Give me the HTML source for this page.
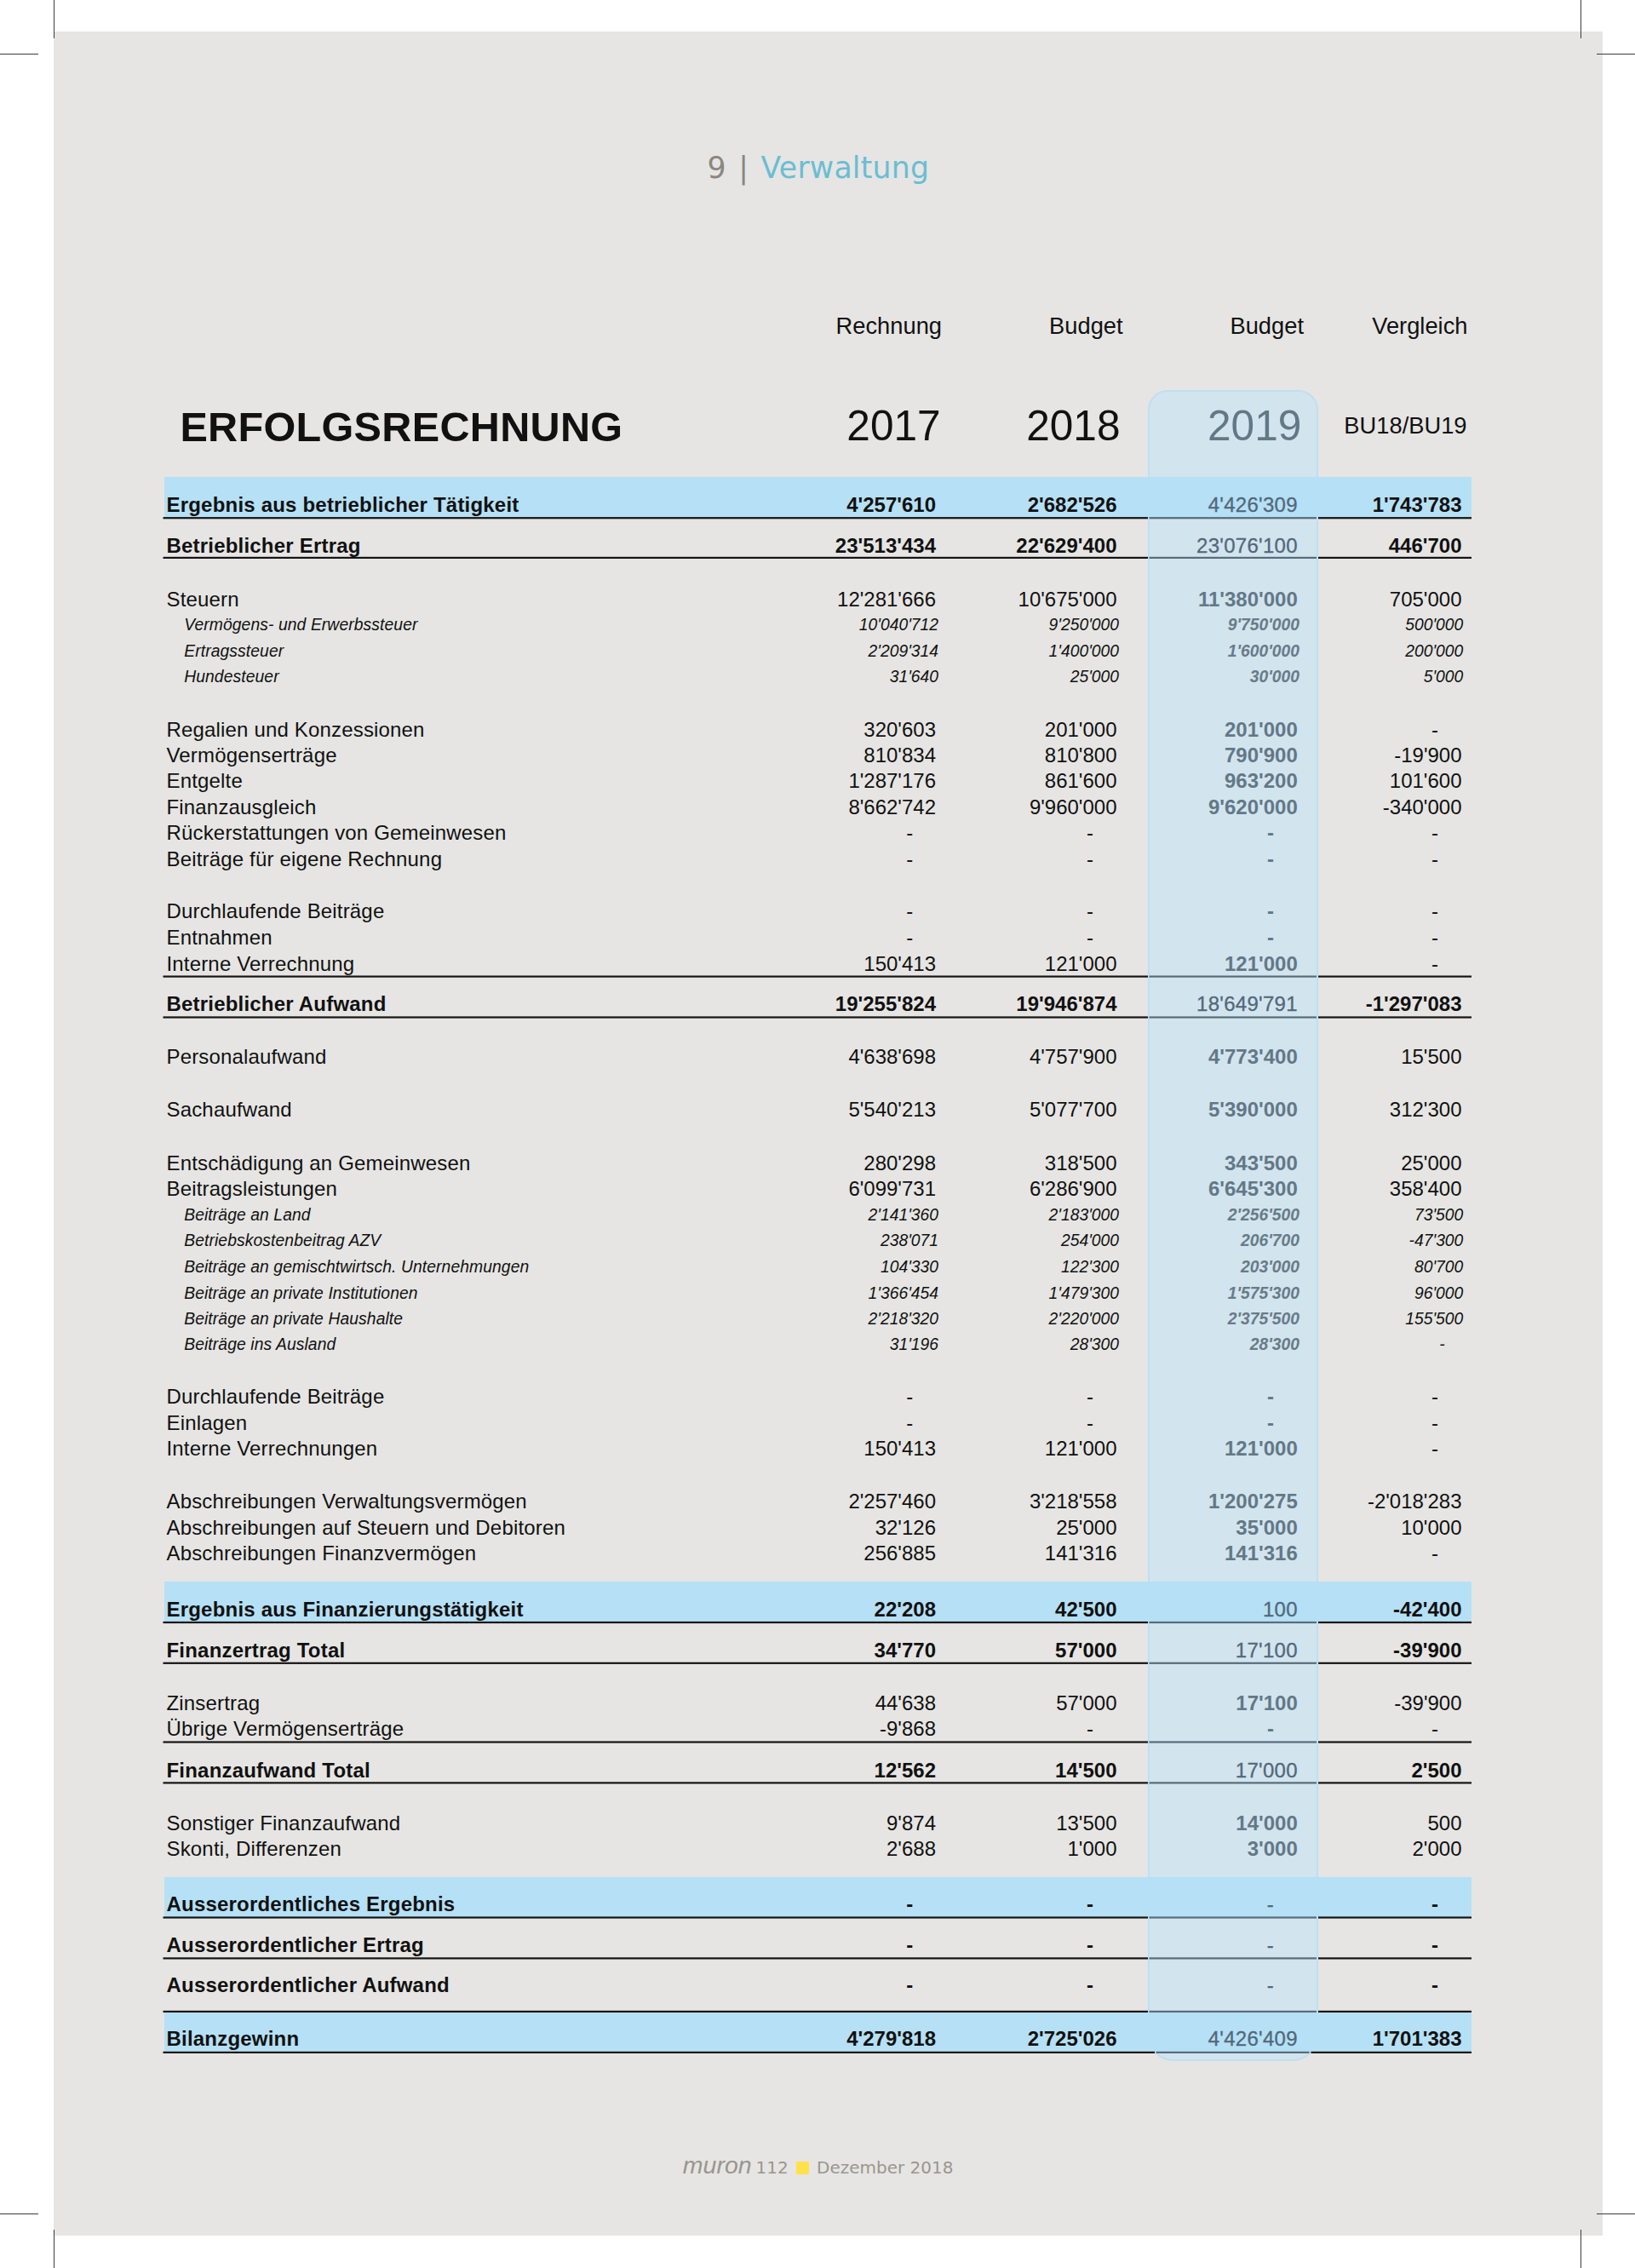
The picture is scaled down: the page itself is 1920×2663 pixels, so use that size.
<!DOCTYPE html>
<html lang="de"><head><meta charset="utf-8"><title>Erfolgsrechnung</title>
<style>
html,body{margin:0;padding:0;background:#fff;}
body{width:1920px;height:2663px;position:relative;overflow:hidden;font-family:"Liberation Sans",Arial,Helvetica,sans-serif;color:#111;}
.pg{position:absolute;left:63px;top:37px;width:1819px;height:2588px;background:#e6e5e3;}
.cm{position:absolute;background:#3c3c3c;}
.t{position:absolute;white-space:nowrap;line-height:30px;font-size:24px;}
.b{font-weight:700;}
.i{font-style:italic;font-size:19.3px;}
.r{text-align:right;}
.c3{color:#637887;font-weight:700;}
.c3n{color:#52687a;font-weight:400;letter-spacing:0.28px;-webkit-text-stroke:0.3px #52687a;}
.c3i{color:#687b88;font-weight:700;}
.ln{position:absolute;height:2px;background:#161616;}
.ln3{position:absolute;height:2px;background:#62737f;}
.band{position:absolute;background:#b5e0f5;}
.ov{position:absolute;left:1348px;top:458px;width:200px;height:1962px;border-radius:23px 23px 30px 30px;background:#d2e4ee;box-sizing:border-box;border:2px solid #bfdff1;}
.d{display:inline-block;}
.dj{font-family:"DejaVu Sans","Liberation Sans",sans-serif;}
.ls{letter-spacing:0.17px;}
.lsb{letter-spacing:0.2px;}
.lsi{letter-spacing:0.1px;}
</style></head><body>
<div class="pg"></div>

<div class="cm" style="left:63px;top:0px;width:1px;height:45px"></div>
<div class="cm" style="left:0px;top:63px;width:45px;height:1px"></div>
<div class="cm" style="left:1856px;top:0px;width:1px;height:45px"></div>
<div class="cm" style="left:1875px;top:63px;width:45px;height:1px"></div>
<div class="cm" style="left:63px;top:2618px;width:1px;height:45px"></div>
<div class="cm" style="left:0px;top:2599px;width:45px;height:1px"></div>
<div class="cm" style="left:1856px;top:2618px;width:1px;height:45px"></div>
<div class="cm" style="left:1875px;top:2599px;width:45px;height:1px"></div>
<div class="ov"></div>
<div class="band" style="left:193.0px;top:560px;width:1535.0px;height:48px"></div>
<div class="band" style="left:193.0px;top:1857px;width:1535.0px;height:48px"></div>
<div class="band" style="left:193.0px;top:2204px;width:1535.0px;height:48px"></div>
<div class="band" style="left:193.0px;top:2361px;width:1535.0px;height:49px"></div>
<div class="t dj" style="left:830.4px;top:175.4px;line-height:44px;font-size:34.7px;color:#8b8782;word-spacing:3.3px;letter-spacing:0.2px"><span>9 | </span><span style="color:#6bbdd3">Verwaltung</span></div>
<div class="t r" style="left:806.0px;width:300px;top:367.5px;font-size:27.3px">Rechnung</div>
<div class="t r" style="left:1018.6px;width:300px;top:367.5px;font-size:27.3px">Budget</div>
<div class="t r" style="left:1231.0px;width:300px;top:367.5px;font-size:27.3px">Budget</div>
<div class="t r" style="left:1423.5px;width:300px;top:367.5px;font-size:27.3px">Vergleich</div>
<div class="t b" style="left:211.4px;top:473.1px;line-height:56px;font-size:48.6px;letter-spacing:0.29px">ERFOLGSRECHNUNG</div>
<div class="t r" style="left:804.7px;width:300px;top:472.4px;line-height:56px;font-size:49.6px;">2017</div>
<div class="t r" style="left:1015.5px;width:300px;top:472.4px;line-height:56px;font-size:49.6px;">2018</div>
<div class="t r c3" style="left:1228.3px;width:300px;top:472.4px;line-height:56px;font-size:49.6px;font-weight:400;">2019</div>
<div class="t r" style="left:1422.5px;width:300px;top:485.0px;font-size:27.3px">BU18/BU19</div>
<div class="t b lsb" style="left:195.5px;top:578.0px">Ergebnis aus betrieblicher Tätigkeit</div>
<div class="t b r" style="left:899.0px;width:200px;top:578.0px">4'257'610</div>
<div class="t b r" style="left:1111.5px;width:200px;top:578.0px">2'682'526</div>
<div class="t b r c3n" style="left:1323.8px;width:200px;top:578.0px">4'426'309</div>
<div class="t b r" style="left:1516.5px;width:200px;top:578.0px">1'743'783</div>
<div class="t b lsb" style="left:195.5px;top:625.5px">Betrieblicher Ertrag</div>
<div class="t b r" style="left:899.0px;width:200px;top:625.5px">23'513'434</div>
<div class="t b r" style="left:1111.5px;width:200px;top:625.5px">22'629'400</div>
<div class="t b r c3n" style="left:1323.8px;width:200px;top:625.5px">23'076'100</div>
<div class="t b r" style="left:1516.5px;width:200px;top:625.5px">446'700</div>
<div class="t ls" style="left:195.5px;top:688.7px">Steuern</div>
<div class="t r" style="left:899.0px;width:200px;top:688.7px">12'281'666</div>
<div class="t r" style="left:1111.5px;width:200px;top:688.7px">10'675'000</div>
<div class="t r c3" style="left:1323.8px;width:200px;top:688.7px">11'380'000</div>
<div class="t r" style="left:1516.5px;width:200px;top:688.7px">705'000</div>
<div class="t i lsi" style="left:216.2px;top:719.2px">Vermögens- und Erwerbssteuer</div>
<div class="t i r" style="left:902.0px;width:200px;top:719.2px">10'040'712</div>
<div class="t i r" style="left:1114.0px;width:200px;top:719.2px">9'250'000</div>
<div class="t i r c3i" style="left:1326.0px;width:200px;top:719.2px">9'750'000</div>
<div class="t i r" style="left:1518.3px;width:200px;top:719.2px">500'000</div>
<div class="t i lsi" style="left:216.2px;top:749.5px">Ertragssteuer</div>
<div class="t i r" style="left:902.0px;width:200px;top:749.5px">2'209'314</div>
<div class="t i r" style="left:1114.0px;width:200px;top:749.5px">1'400'000</div>
<div class="t i r c3i" style="left:1326.0px;width:200px;top:749.5px">1'600'000</div>
<div class="t i r" style="left:1518.3px;width:200px;top:749.5px">200'000</div>
<div class="t i lsi" style="left:216.2px;top:779.7px">Hundesteuer</div>
<div class="t i r" style="left:902.0px;width:200px;top:779.7px">31'640</div>
<div class="t i r" style="left:1114.0px;width:200px;top:779.7px">25'000</div>
<div class="t i r c3i" style="left:1326.0px;width:200px;top:779.7px">30'000</div>
<div class="t i r" style="left:1518.3px;width:200px;top:779.7px">5'000</div>
<div class="t ls" style="left:195.5px;top:841.7px">Regalien und Konzessionen</div>
<div class="t r" style="left:899.0px;width:200px;top:841.7px">320'603</div>
<div class="t r" style="left:1111.5px;width:200px;top:841.7px">201'000</div>
<div class="t r c3" style="left:1323.8px;width:200px;top:841.7px">201'000</div>
<div class="t r" style="left:1516.5px;width:200px;top:841.7px"><span class="d" style="padding-right:27.5px">-</span></div>
<div class="t ls" style="left:195.5px;top:871.7px">Vermögenserträge</div>
<div class="t r" style="left:899.0px;width:200px;top:871.7px">810'834</div>
<div class="t r" style="left:1111.5px;width:200px;top:871.7px">810'800</div>
<div class="t r c3" style="left:1323.8px;width:200px;top:871.7px">790'900</div>
<div class="t r" style="left:1516.5px;width:200px;top:871.7px">-19'900</div>
<div class="t ls" style="left:195.5px;top:902.2px">Entgelte</div>
<div class="t r" style="left:899.0px;width:200px;top:902.2px">1'287'176</div>
<div class="t r" style="left:1111.5px;width:200px;top:902.2px">861'600</div>
<div class="t r c3" style="left:1323.8px;width:200px;top:902.2px">963'200</div>
<div class="t r" style="left:1516.5px;width:200px;top:902.2px">101'600</div>
<div class="t ls" style="left:195.5px;top:932.7px">Finanzausgleich</div>
<div class="t r" style="left:899.0px;width:200px;top:932.7px">8'662'742</div>
<div class="t r" style="left:1111.5px;width:200px;top:932.7px">9'960'000</div>
<div class="t r c3" style="left:1323.8px;width:200px;top:932.7px">9'620'000</div>
<div class="t r" style="left:1516.5px;width:200px;top:932.7px">-340'000</div>
<div class="t ls" style="left:195.5px;top:963.3px">Rückerstattungen von Gemeinwesen</div>
<div class="t r" style="left:899.0px;width:200px;top:963.3px"><span class="d" style="padding-right:26.7px">-</span></div>
<div class="t r" style="left:1111.5px;width:200px;top:963.3px"><span class="d" style="padding-right:27.6px">-</span></div>
<div class="t r c3" style="left:1323.8px;width:200px;top:963.3px"><span class="d" style="padding-right:27.9px">-</span></div>
<div class="t r" style="left:1516.5px;width:200px;top:963.3px"><span class="d" style="padding-right:27.5px">-</span></div>
<div class="t ls" style="left:195.5px;top:993.7px">Beiträge für eigene Rechnung</div>
<div class="t r" style="left:899.0px;width:200px;top:993.7px"><span class="d" style="padding-right:26.7px">-</span></div>
<div class="t r" style="left:1111.5px;width:200px;top:993.7px"><span class="d" style="padding-right:27.6px">-</span></div>
<div class="t r c3" style="left:1323.8px;width:200px;top:993.7px"><span class="d" style="padding-right:27.9px">-</span></div>
<div class="t r" style="left:1516.5px;width:200px;top:993.7px"><span class="d" style="padding-right:27.5px">-</span></div>
<div class="t ls" style="left:195.5px;top:1055.4px">Durchlaufende Beiträge</div>
<div class="t r" style="left:899.0px;width:200px;top:1055.4px"><span class="d" style="padding-right:26.7px">-</span></div>
<div class="t r" style="left:1111.5px;width:200px;top:1055.4px"><span class="d" style="padding-right:27.6px">-</span></div>
<div class="t r c3" style="left:1323.8px;width:200px;top:1055.4px"><span class="d" style="padding-right:27.9px">-</span></div>
<div class="t r" style="left:1516.5px;width:200px;top:1055.4px"><span class="d" style="padding-right:27.5px">-</span></div>
<div class="t ls" style="left:195.5px;top:1086.0px">Entnahmen</div>
<div class="t r" style="left:899.0px;width:200px;top:1086.0px"><span class="d" style="padding-right:26.7px">-</span></div>
<div class="t r" style="left:1111.5px;width:200px;top:1086.0px"><span class="d" style="padding-right:27.6px">-</span></div>
<div class="t r c3" style="left:1323.8px;width:200px;top:1086.0px"><span class="d" style="padding-right:27.9px">-</span></div>
<div class="t r" style="left:1516.5px;width:200px;top:1086.0px"><span class="d" style="padding-right:27.5px">-</span></div>
<div class="t ls" style="left:195.5px;top:1116.7px">Interne Verrechnung</div>
<div class="t r" style="left:899.0px;width:200px;top:1116.7px">150'413</div>
<div class="t r" style="left:1111.5px;width:200px;top:1116.7px">121'000</div>
<div class="t r c3" style="left:1323.8px;width:200px;top:1116.7px">121'000</div>
<div class="t r" style="left:1516.5px;width:200px;top:1116.7px"><span class="d" style="padding-right:27.5px">-</span></div>
<div class="t b lsb" style="left:195.5px;top:1164.2px">Betrieblicher Aufwand</div>
<div class="t b r" style="left:899.0px;width:200px;top:1164.2px">19'255'824</div>
<div class="t b r" style="left:1111.5px;width:200px;top:1164.2px">19'946'874</div>
<div class="t b r c3n" style="left:1323.8px;width:200px;top:1164.2px">18'649'791</div>
<div class="t b r" style="left:1516.5px;width:200px;top:1164.2px">-1'297'083</div>
<div class="t ls" style="left:195.5px;top:1226.4px">Personalaufwand</div>
<div class="t r" style="left:899.0px;width:200px;top:1226.4px">4'638'698</div>
<div class="t r" style="left:1111.5px;width:200px;top:1226.4px">4'757'900</div>
<div class="t r c3" style="left:1323.8px;width:200px;top:1226.4px">4'773'400</div>
<div class="t r" style="left:1516.5px;width:200px;top:1226.4px">15'500</div>
<div class="t ls" style="left:195.5px;top:1288.4px">Sachaufwand</div>
<div class="t r" style="left:899.0px;width:200px;top:1288.4px">5'540'213</div>
<div class="t r" style="left:1111.5px;width:200px;top:1288.4px">5'077'700</div>
<div class="t r c3" style="left:1323.8px;width:200px;top:1288.4px">5'390'000</div>
<div class="t r" style="left:1516.5px;width:200px;top:1288.4px">312'300</div>
<div class="t ls" style="left:195.5px;top:1350.5px">Entschädigung an Gemeinwesen</div>
<div class="t r" style="left:899.0px;width:200px;top:1350.5px">280'298</div>
<div class="t r" style="left:1111.5px;width:200px;top:1350.5px">318'500</div>
<div class="t r c3" style="left:1323.8px;width:200px;top:1350.5px">343'500</div>
<div class="t r" style="left:1516.5px;width:200px;top:1350.5px">25'000</div>
<div class="t ls" style="left:195.5px;top:1381.3px">Beitragsleistungen</div>
<div class="t r" style="left:899.0px;width:200px;top:1381.3px">6'099'731</div>
<div class="t r" style="left:1111.5px;width:200px;top:1381.3px">6'286'900</div>
<div class="t r c3" style="left:1323.8px;width:200px;top:1381.3px">6'645'300</div>
<div class="t r" style="left:1516.5px;width:200px;top:1381.3px">358'400</div>
<div class="t i lsi" style="left:216.2px;top:1412.3px">Beiträge an Land</div>
<div class="t i r" style="left:902.0px;width:200px;top:1412.3px">2'141'360</div>
<div class="t i r" style="left:1114.0px;width:200px;top:1412.3px">2'183'000</div>
<div class="t i r c3i" style="left:1326.0px;width:200px;top:1412.3px">2'256'500</div>
<div class="t i r" style="left:1518.3px;width:200px;top:1412.3px">73'500</div>
<div class="t i lsi" style="left:216.2px;top:1442.3px">Betriebskostenbeitrag AZV</div>
<div class="t i r" style="left:902.0px;width:200px;top:1442.3px">238'071</div>
<div class="t i r" style="left:1114.0px;width:200px;top:1442.3px">254'000</div>
<div class="t i r c3i" style="left:1326.0px;width:200px;top:1442.3px">206'700</div>
<div class="t i r" style="left:1518.3px;width:200px;top:1442.3px">-47'300</div>
<div class="t i lsi" style="left:216.2px;top:1472.8px">Beiträge an gemischtwirtsch. Unternehmungen</div>
<div class="t i r" style="left:902.0px;width:200px;top:1472.8px">104'330</div>
<div class="t i r" style="left:1114.0px;width:200px;top:1472.8px">122'300</div>
<div class="t i r c3i" style="left:1326.0px;width:200px;top:1472.8px">203'000</div>
<div class="t i r" style="left:1518.3px;width:200px;top:1472.8px">80'700</div>
<div class="t i lsi" style="left:216.2px;top:1503.6px">Beiträge an private Institutionen</div>
<div class="t i r" style="left:902.0px;width:200px;top:1503.6px">1'366'454</div>
<div class="t i r" style="left:1114.0px;width:200px;top:1503.6px">1'479'300</div>
<div class="t i r c3i" style="left:1326.0px;width:200px;top:1503.6px">1'575'300</div>
<div class="t i r" style="left:1518.3px;width:200px;top:1503.6px">96'000</div>
<div class="t i lsi" style="left:216.2px;top:1533.7px">Beiträge an private Haushalte</div>
<div class="t i r" style="left:902.0px;width:200px;top:1533.7px">2'218'320</div>
<div class="t i r" style="left:1114.0px;width:200px;top:1533.7px">2'220'000</div>
<div class="t i r c3i" style="left:1326.0px;width:200px;top:1533.7px">2'375'500</div>
<div class="t i r" style="left:1518.3px;width:200px;top:1533.7px">155'500</div>
<div class="t i lsi" style="left:216.2px;top:1563.8px">Beiträge ins Ausland</div>
<div class="t i r" style="left:902.0px;width:200px;top:1563.8px">31'196</div>
<div class="t i r" style="left:1114.0px;width:200px;top:1563.8px">28'300</div>
<div class="t i r c3i" style="left:1326.0px;width:200px;top:1563.8px">28'300</div>
<div class="t i r" style="left:1518.3px;width:200px;top:1563.8px"><span class="d" style="padding-right:21.6px">-</span></div>
<div class="t ls" style="left:195.5px;top:1625.3px">Durchlaufende Beiträge</div>
<div class="t r" style="left:899.0px;width:200px;top:1625.3px"><span class="d" style="padding-right:26.7px">-</span></div>
<div class="t r" style="left:1111.5px;width:200px;top:1625.3px"><span class="d" style="padding-right:27.6px">-</span></div>
<div class="t r c3" style="left:1323.8px;width:200px;top:1625.3px"><span class="d" style="padding-right:27.9px">-</span></div>
<div class="t r" style="left:1516.5px;width:200px;top:1625.3px"><span class="d" style="padding-right:27.5px">-</span></div>
<div class="t ls" style="left:195.5px;top:1656.1px">Einlagen</div>
<div class="t r" style="left:899.0px;width:200px;top:1656.1px"><span class="d" style="padding-right:26.7px">-</span></div>
<div class="t r" style="left:1111.5px;width:200px;top:1656.1px"><span class="d" style="padding-right:27.6px">-</span></div>
<div class="t r c3" style="left:1323.8px;width:200px;top:1656.1px"><span class="d" style="padding-right:27.9px">-</span></div>
<div class="t r" style="left:1516.5px;width:200px;top:1656.1px"><span class="d" style="padding-right:27.5px">-</span></div>
<div class="t ls" style="left:195.5px;top:1686.2px">Interne Verrechnungen</div>
<div class="t r" style="left:899.0px;width:200px;top:1686.2px">150'413</div>
<div class="t r" style="left:1111.5px;width:200px;top:1686.2px">121'000</div>
<div class="t r c3" style="left:1323.8px;width:200px;top:1686.2px">121'000</div>
<div class="t r" style="left:1516.5px;width:200px;top:1686.2px"><span class="d" style="padding-right:27.5px">-</span></div>
<div class="t ls" style="left:195.5px;top:1748.3px">Abschreibungen Verwaltungsvermögen</div>
<div class="t r" style="left:899.0px;width:200px;top:1748.3px">2'257'460</div>
<div class="t r" style="left:1111.5px;width:200px;top:1748.3px">3'218'558</div>
<div class="t r c3" style="left:1323.8px;width:200px;top:1748.3px">1'200'275</div>
<div class="t r" style="left:1516.5px;width:200px;top:1748.3px">-2'018'283</div>
<div class="t ls" style="left:195.5px;top:1779.1px">Abschreibungen auf Steuern und Debitoren</div>
<div class="t r" style="left:899.0px;width:200px;top:1779.1px">32'126</div>
<div class="t r" style="left:1111.5px;width:200px;top:1779.1px">25'000</div>
<div class="t r c3" style="left:1323.8px;width:200px;top:1779.1px">35'000</div>
<div class="t r" style="left:1516.5px;width:200px;top:1779.1px">10'000</div>
<div class="t ls" style="left:195.5px;top:1809.2px">Abschreibungen Finanzvermögen</div>
<div class="t r" style="left:899.0px;width:200px;top:1809.2px">256'885</div>
<div class="t r" style="left:1111.5px;width:200px;top:1809.2px">141'316</div>
<div class="t r c3" style="left:1323.8px;width:200px;top:1809.2px">141'316</div>
<div class="t r" style="left:1516.5px;width:200px;top:1809.2px"><span class="d" style="padding-right:27.5px">-</span></div>
<div class="t b lsb" style="left:195.5px;top:1874.7px">Ergebnis aus Finanzierungstätigkeit</div>
<div class="t b r" style="left:899.0px;width:200px;top:1874.7px">22'208</div>
<div class="t b r" style="left:1111.5px;width:200px;top:1874.7px">42'500</div>
<div class="t b r c3n" style="left:1323.8px;width:200px;top:1874.7px">100</div>
<div class="t b r" style="left:1516.5px;width:200px;top:1874.7px">-42'400</div>
<div class="t b lsb" style="left:195.5px;top:1922.5px">Finanzertrag Total</div>
<div class="t b r" style="left:899.0px;width:200px;top:1922.5px">34'770</div>
<div class="t b r" style="left:1111.5px;width:200px;top:1922.5px">57'000</div>
<div class="t b r c3n" style="left:1323.8px;width:200px;top:1922.5px">17'100</div>
<div class="t b r" style="left:1516.5px;width:200px;top:1922.5px">-39'900</div>
<div class="t ls" style="left:195.5px;top:1985.3px">Zinsertrag</div>
<div class="t r" style="left:899.0px;width:200px;top:1985.3px">44'638</div>
<div class="t r" style="left:1111.5px;width:200px;top:1985.3px">57'000</div>
<div class="t r c3" style="left:1323.8px;width:200px;top:1985.3px">17'100</div>
<div class="t r" style="left:1516.5px;width:200px;top:1985.3px">-39'900</div>
<div class="t ls" style="left:195.5px;top:2015.0px">Übrige Vermögenserträge</div>
<div class="t r" style="left:899.0px;width:200px;top:2015.0px">-9'868</div>
<div class="t r" style="left:1111.5px;width:200px;top:2015.0px"><span class="d" style="padding-right:27.6px">-</span></div>
<div class="t r c3" style="left:1323.8px;width:200px;top:2015.0px"><span class="d" style="padding-right:27.9px">-</span></div>
<div class="t r" style="left:1516.5px;width:200px;top:2015.0px"><span class="d" style="padding-right:27.5px">-</span></div>
<div class="t b lsb" style="left:195.5px;top:2063.5px">Finanzaufwand Total</div>
<div class="t b r" style="left:899.0px;width:200px;top:2063.5px">12'562</div>
<div class="t b r" style="left:1111.5px;width:200px;top:2063.5px">14'500</div>
<div class="t b r c3n" style="left:1323.8px;width:200px;top:2063.5px">17'000</div>
<div class="t b r" style="left:1516.5px;width:200px;top:2063.5px">2'500</div>
<div class="t ls" style="left:195.5px;top:2125.5px">Sonstiger Finanzaufwand</div>
<div class="t r" style="left:899.0px;width:200px;top:2125.5px">9'874</div>
<div class="t r" style="left:1111.5px;width:200px;top:2125.5px">13'500</div>
<div class="t r c3" style="left:1323.8px;width:200px;top:2125.5px">14'000</div>
<div class="t r" style="left:1516.5px;width:200px;top:2125.5px">500</div>
<div class="t ls" style="left:195.5px;top:2156.0px">Skonti, Differenzen</div>
<div class="t r" style="left:899.0px;width:200px;top:2156.0px">2'688</div>
<div class="t r" style="left:1111.5px;width:200px;top:2156.0px">1'000</div>
<div class="t r c3" style="left:1323.8px;width:200px;top:2156.0px">3'000</div>
<div class="t r" style="left:1516.5px;width:200px;top:2156.0px">2'000</div>
<div class="t b lsb" style="left:195.5px;top:2221.1px">Ausserordentliches Ergebnis</div>
<div class="t b r" style="left:899.0px;width:200px;top:2221.1px"><span class="d" style="padding-right:26.7px">-</span></div>
<div class="t b r" style="left:1111.5px;width:200px;top:2221.1px"><span class="d" style="padding-right:27.6px">-</span></div>
<div class="t b r c3n" style="left:1323.8px;width:200px;top:2221.1px"><span class="d" style="padding-right:27.9px">-</span></div>
<div class="t b r" style="left:1516.5px;width:200px;top:2221.1px"><span class="d" style="padding-right:27.5px">-</span></div>
<div class="t b lsb" style="left:195.5px;top:2269.4px">Ausserordentlicher Ertrag</div>
<div class="t b r" style="left:899.0px;width:200px;top:2269.4px"><span class="d" style="padding-right:26.7px">-</span></div>
<div class="t b r" style="left:1111.5px;width:200px;top:2269.4px"><span class="d" style="padding-right:27.6px">-</span></div>
<div class="t b r c3n" style="left:1323.8px;width:200px;top:2269.4px"><span class="d" style="padding-right:27.9px">-</span></div>
<div class="t b r" style="left:1516.5px;width:200px;top:2269.4px"><span class="d" style="padding-right:27.5px">-</span></div>
<div class="t b lsb" style="left:195.5px;top:2316.0px">Ausserordentlicher Aufwand</div>
<div class="t b r" style="left:899.0px;width:200px;top:2316.0px"><span class="d" style="padding-right:26.7px">-</span></div>
<div class="t b r" style="left:1111.5px;width:200px;top:2316.0px"><span class="d" style="padding-right:27.6px">-</span></div>
<div class="t b r c3n" style="left:1323.8px;width:200px;top:2316.0px"><span class="d" style="padding-right:27.9px">-</span></div>
<div class="t b r" style="left:1516.5px;width:200px;top:2316.0px"><span class="d" style="padding-right:27.5px">-</span></div>
<div class="t b lsb" style="left:195.5px;top:2379.1px">Bilanzgewinn</div>
<div class="t b r" style="left:899.0px;width:200px;top:2379.1px">4'279'818</div>
<div class="t b r" style="left:1111.5px;width:200px;top:2379.1px">2'725'026</div>
<div class="t b r c3n" style="left:1323.8px;width:200px;top:2379.1px">4'426'409</div>
<div class="t b r" style="left:1516.5px;width:200px;top:2379.1px">1'701'383</div>
<svg style="position:absolute;left:0;top:0" width="1920" height="2663" viewBox="0 0 1920 2663"><rect x="191.5" y="607.10" width="1156.5" height="2.2" fill="#141414"/><rect x="1349.5" y="607.10" width="196.5" height="2.2" fill="#586c79"/><rect x="1548.0" y="607.10" width="180.0" height="2.2" fill="#141414"/><rect x="191.5" y="653.80" width="1156.5" height="2.2" fill="#141414"/><rect x="1349.5" y="653.80" width="196.5" height="2.2" fill="#586c79"/><rect x="1548.0" y="653.80" width="180.0" height="2.2" fill="#141414"/><rect x="191.5" y="1145.50" width="1156.5" height="2.2" fill="#141414"/><rect x="1349.5" y="1145.50" width="196.5" height="2.2" fill="#586c79"/><rect x="1548.0" y="1145.50" width="180.0" height="2.2" fill="#141414"/><rect x="191.5" y="1193.40" width="1156.5" height="2.2" fill="#141414"/><rect x="1349.5" y="1193.40" width="196.5" height="2.2" fill="#586c79"/><rect x="1548.0" y="1193.40" width="180.0" height="2.2" fill="#141414"/><rect x="191.5" y="1903.90" width="1156.5" height="2.2" fill="#141414"/><rect x="1349.5" y="1903.90" width="196.5" height="2.2" fill="#586c79"/><rect x="1548.0" y="1903.90" width="180.0" height="2.2" fill="#141414"/><rect x="191.5" y="1951.70" width="1156.5" height="2.2" fill="#141414"/><rect x="1349.5" y="1951.70" width="196.5" height="2.2" fill="#586c79"/><rect x="1548.0" y="1951.70" width="180.0" height="2.2" fill="#141414"/><rect x="191.5" y="2044.40" width="1156.5" height="2.2" fill="#141414"/><rect x="1349.5" y="2044.40" width="196.5" height="2.2" fill="#586c79"/><rect x="1548.0" y="2044.40" width="180.0" height="2.2" fill="#141414"/><rect x="191.5" y="2092.30" width="1156.5" height="2.2" fill="#141414"/><rect x="1349.5" y="2092.30" width="196.5" height="2.2" fill="#586c79"/><rect x="1548.0" y="2092.30" width="180.0" height="2.2" fill="#141414"/><rect x="191.5" y="2250.40" width="1156.5" height="2.2" fill="#141414"/><rect x="1349.5" y="2250.40" width="196.5" height="2.2" fill="#586c79"/><rect x="1548.0" y="2250.40" width="180.0" height="2.2" fill="#141414"/><rect x="191.5" y="2298.30" width="1156.5" height="2.2" fill="#141414"/><rect x="1349.5" y="2298.30" width="196.5" height="2.2" fill="#586c79"/><rect x="1548.0" y="2298.30" width="180.0" height="2.2" fill="#141414"/><rect x="191.5" y="2408.80" width="1164.5" height="2.2" fill="#141414"/><rect x="1357.5" y="2408.80" width="180.0" height="2.2" fill="#586c79"/><rect x="1539.5" y="2408.80" width="188.5" height="2.2" fill="#141414"/><rect x="191.5" y="2360.80" width="1156.5" height="2.2" fill="#141414"/><rect x="1349.5" y="2360.80" width="196.5" height="2.2" fill="#586c79"/><rect x="1548.0" y="2360.80" width="180.0" height="2.2" fill="#141414"/></svg>
<div class="t" style="left:801.8px;top:2525.4px;line-height:34px;font-size:28.5px;font-style:italic;color:#9a968f">muron</div>
<div class="t dj" style="left:887.6px;top:2528.4px;line-height:34px;font-size:20px;color:#9a968f">112</div>
<div style="position:absolute;left:934.5px;top:2537.5px;width:15px;height:15px;background:#ffe24a"></div>
<div class="t dj" style="left:959.0px;top:2528.4px;line-height:34px;font-size:20px;color:#9a968f">Dezember 2018</div>
</body></html>
